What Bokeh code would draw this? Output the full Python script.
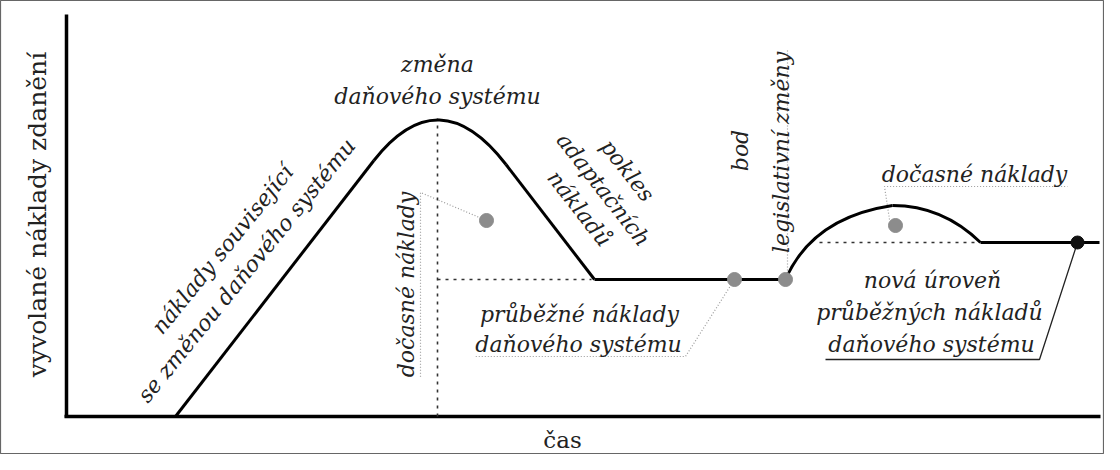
from bokeh.plotting import figure
from bokeh.models import Range1d
from bokeh.core.properties import value
from bokeh.embed import file_html
from bokeh.resources import INLINE
import math

# ---- diagram data (time on x, induced cost on y; arbitrary units) ----
axis_x_end = 1034
axis_y_end = 402

# piecewise curve of induced compliance costs: straight segments
line_x0 = [109, 439.5, 528, 914]
line_y0 = [0, 252, 137, 174]
line_x1 = [307.4, 528, 719, 1033]
line_y1 = [256, 137, 137, 174]

# rounded parts (quadratic curves): start, control, end
quad_x0 = [307.4, 719, 826]
quad_y0 = [256, 137, 211]
quad_cx = [372.4, 746, 876]
quad_cy = [339, 199, 211]
quad_x1 = [439.5, 826, 914]
quad_y1 = [252, 211, 174]

# marked points
grey_x = [420, 668, 719, 829]
grey_y = [196, 137, 137, 191]
black_x = [1011]
black_y = [174]

# dashed reference lines
ref_x0 = [371, 371, 753]
ref_y0 = [0, 137, 174]
ref_x1 = [371, 525, 909]
ref_y1 = [298, 137, 174]

# fine dotted leaders
lead_xs = [[668, 619, 409], [420, 354, 354], [721, 721], [823, 818, 1001]]
lead_ys = [[137, 60, 60], [196, 224, 39], [137, 366], [197, 230, 230]]

# solid leader
sol_xs = [1011, 973, 759]
sol_ys = [174, 57, 57]

# labels
up_text = ["změna", "daňového systému", "průběžné náklady", "daňového systému",
           "dočasné náklady", "nová úroveň", "průběžných nákladů", "daňového systému"]
up_x = [371, 371, 513, 512, 908, 866, 863, 865]
up_y = [352, 320, 102, 72, 242, 136, 104, 72]

rise_text = ["náklady související", "se změnou daňového systému"]
rise_x = [156, 180]
rise_y = [167, 146]

fall_text = ["pokles", "adaptačních", "nákladů"]
fall_x = [561, 537, 513]
fall_y = [246, 227, 208]

vert_text = ["dočasné náklady", "bod", "legislativní změny"]
vert_x = [340, 674, 715]
vert_y = [132, 266, 264]

y_title = "vyvolané náklady zdanění"
x_title = "čas"

FONT = "DejaVu Serif"
FS = "22px"

p = figure(width=1104, height=454, x_range=Range1d(-66, 1038), y_range=Range1d(-38, 416),
           output_backend="svg", toolbar_location=None, min_border=0)
p.axis.visible = False
p.grid.visible = False
p.outline_line_color = "#666666"
p.outline_line_width = 1.2
p.background_fill_color = "white"

# axes
p.segment(x0=[0, -2], y0=[-1, 0], x1=[0, axis_x_end], y1=[axis_y_end, 0],
          line_color="black", line_width=3.5)

# reference lines
p.segment(x0=ref_x0, y0=ref_y0, x1=ref_x1, y1=ref_y1, line_color="#333333",
          line_width=1.6, line_dash="3 5")
p.multi_line(xs=lead_xs, ys=lead_ys, line_color="#9a9a9a", line_width=1.2, line_dash="1 2")
p.line(sol_xs, sol_ys, line_color="#222222", line_width=1.3)

# curve
p.segment(x0=line_x0, y0=line_y0, x1=line_x1, y1=line_y1, line_color="black", line_width=3)
p.quadratic(x0=quad_x0, y0=quad_y0, x1=quad_x1, y1=quad_y1, cx=quad_cx, cy=quad_cy,
            line_color="black", line_width=3)

p.scatter(grey_x, grey_y, size=14, fill_color="#8c8c8c", line_color="#8c8c8c")
p.scatter(black_x, black_y, size=13, fill_color="#111111", line_color="#111111")

common = dict(text_font=value(FONT), text_font_style="italic", text_font_size=FS,
              text_color="#222222", text_align="center", text_baseline="middle")
p.text(up_x, up_y, text=up_text, **common)
p.text(rise_x, rise_y, text=rise_text, angle=math.radians(51), **common)
p.text(fall_x, fall_y, text=fall_text, angle=math.radians(-52), **common)
p.text(vert_x, vert_y, text=vert_text, angle=math.radians(90), **common)

p.text([-29], [202], text=[y_title], angle=math.radians(90), text_font=value(FONT),
       text_font_size="25px", text_color="#222222", text_align="center", text_baseline="middle")
p.text([496], [-23], text=[x_title], text_font=value(FONT),
       text_font_size="23px", text_color="#222222", text_align="center", text_baseline="middle")

open("out.html", "w").write(file_html(p, INLINE))
